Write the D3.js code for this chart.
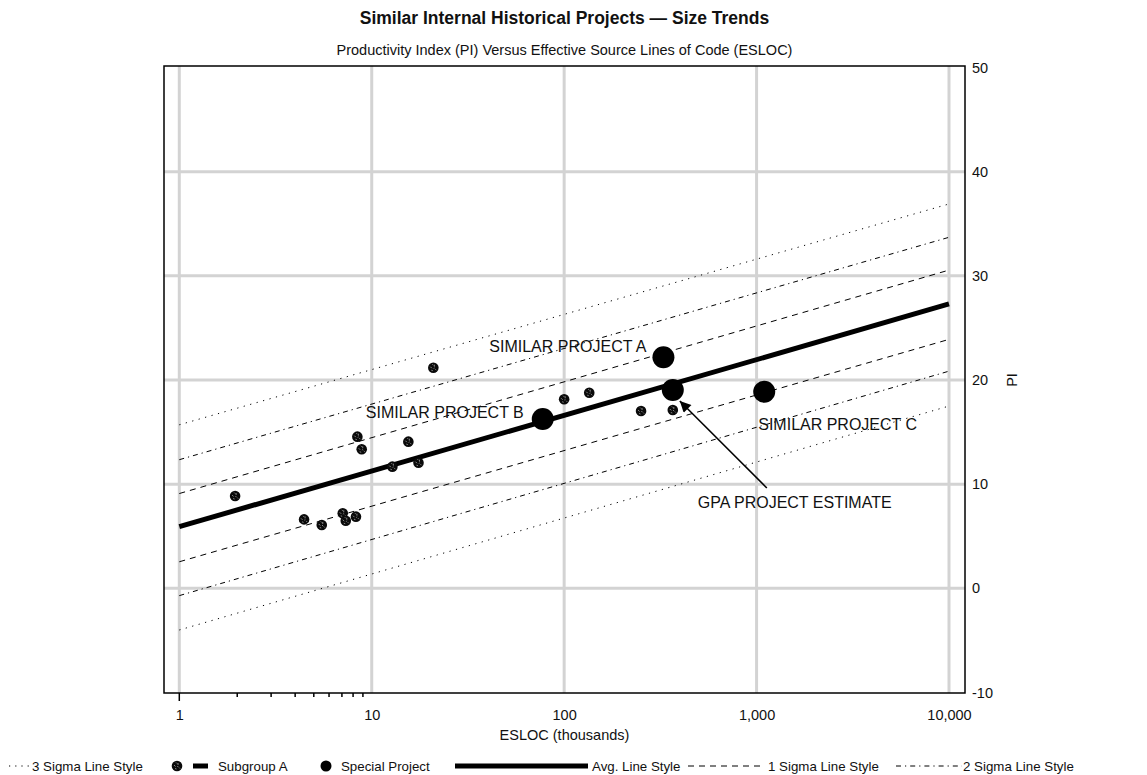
<!DOCTYPE html>
<html>
<head>
<meta charset="utf-8">
<script src="https://cdn.jsdelivr.net/npm/d3@7"></script>
<style>
  html, body { margin: 0; padding: 0; background: #fff; }
  svg { display: block; font-family: "Liberation Sans", Arial, Helvetica, sans-serif; }
</style>
</head>
<body>
<svg id="chart" width="1147" height="775"></svg>
<script>
// ---------------- DATA ----------------
const xTickValues = [1, 10, 100, 1000, 10000];
const xMinorTicks = [2, 3, 4, 5, 6, 7, 8, 9];
const yTickValues = [-10, 0, 10, 20, 30, 40, 50];
const yGridValues = [0, 10, 20, 30, 40];

// Subgroup A historical projects (ESLOC thousands, PI)
const subgroupX = [1.95, 4.45, 5.5, 7.07, 7.33, 8.28, 8.42, 8.87, 12.8, 15.5, 17.5, 20.9, 100, 135, 251, 367];
const subgroupY = [8.86, 6.62, 6.08, 7.2, 6.49, 6.88, 14.56, 13.35, 11.68, 14.08, 12.06, 21.18, 18.15, 18.78, 17.02, 17.12];

// Special projects
const specialNames = ["SIMILAR PROJECT A", "SIMILAR PROJECT B", "SIMILAR PROJECT C", "GPA PROJECT ESTIMATE"];
const specialX = [328, 77.4, 1096, 367];
const specialY = [22.18, 16.26, 18.88, 19.04];

// Trend lines: PI at ESLOC = 1 and at ESLOC = 10,000
const lineEndsX = [1, 10000];
const avgLine = [5.92, 27.3];
const plus1Sigma = [9.1, 30.55];
const plus2Sigma = [12.35, 33.7];
const plus3Sigma = [15.7, 36.9];
const minus1Sigma = [2.55, 23.9];
const minus2Sigma = [-0.7, 20.85];
const minus3Sigma = [-4.0, 17.5];

// ---------------- LAYOUT ----------------
const svg = d3.select("#chart");
const frame = { left: 164, right: 965, top: 66, bottom: 693 };

const x = d3.scaleLog().domain([1, 10000]).range([179.3, 949]);
const y = d3.scaleLinear().domain([-10, 50]).range([692.5, 67.5]);

const GRID = "#d3d3d3";

// Title & subtitle
const cx = (frame.left + frame.right) / 2;
svg.append("text").attr("x", cx).attr("y", 24).attr("text-anchor", "middle")
  .attr("font-size", 17.5).attr("font-weight", "bold").attr("fill", "#111")
  .text("Similar Internal Historical Projects \u2014 Size Trends");
svg.append("text").attr("x", cx).attr("y", 55).attr("text-anchor", "middle")
  .attr("font-size", 14.5).attr("fill", "#111")
  .text("Productivity Index (PI) Versus Effective Source Lines of Code (ESLOC)");

// Clip for plot area
const defs = svg.append("defs");
defs.append("clipPath").attr("id", "plotclip")
  .append("rect").attr("x", frame.left).attr("y", frame.top)
  .attr("width", frame.right - frame.left).attr("height", frame.bottom - frame.top);

// Gridlines
const grid = svg.append("g");
grid.selectAll("line.v").data(xTickValues).join("line")
  .attr("x1", d => x(d)).attr("x2", d => x(d))
  .attr("y1", frame.top).attr("y2", frame.bottom)
  .attr("stroke", GRID).attr("stroke-width", 3);
grid.selectAll("line.h").data(yGridValues).join("line")
  .attr("x1", frame.left).attr("x2", frame.right)
  .attr("y1", d => y(d)).attr("y2", d => y(d))
  .attr("stroke", GRID).attr("stroke-width", 3);

// Trend lines
const plot = svg.append("g").attr("clip-path", "url(#plotclip)");
const lineGen = d3.line().x(d => x(d[0])).y(d => y(d[1]));
const trendDefs = [
  { v: plus3Sigma, dash: "1.2,5.5", w: 1 },
  { v: minus3Sigma, dash: "1.2,5.5", w: 1 },
  { v: plus2Sigma, dash: "5,4,1.2,4", w: 1 },
  { v: minus2Sigma, dash: "5,4,1.2,4", w: 1 },
  { v: plus1Sigma, dash: "6,5", w: 1 },
  { v: minus1Sigma, dash: "6,5", w: 1 },
  { v: avgLine, dash: null, w: 5 }
];
trendDefs.forEach(t => {
  plot.append("path")
    .attr("d", lineGen(lineEndsX.map((xv, i) => [xv, t.v[i]])))
    .attr("fill", "none").attr("stroke", "#000")
    .attr("stroke-width", t.w)
    .attr("stroke-dasharray", t.dash);
});

// Subgroup marker symbol
const sym = defs.append("g").attr("id", "subA");
sym.append("circle").attr("r", 5.3).attr("fill", "#0a0a0a");
sym.append("path").attr("d", "M-3,-1 L-1.5,0.5 M1,-3 L1,-1 M2,1.5 L3,2.5 M-2,2.5 L-0.5,3 M-1,-3.5 L0,-2.5 M0.5,1 L1,0")
  .attr("stroke", "#bbb").attr("stroke-width", 0.7).attr("fill", "none");

plot.selectAll("use.sub").data(subgroupX.map((d, i) => [d, subgroupY[i]])).join("use")
  .attr("href", "#subA")
  .attr("x", d => x(d[0])).attr("y", d => y(d[1]));

// Special projects
const specials = specialX.map((d, i) => ({ name: specialNames[i], xv: d, yv: specialY[i] }));
plot.selectAll("circle.sp").data(specials).join("circle")
  .attr("cx", d => x(d.xv)).attr("cy", d => y(d.yv)).attr("r", 11).attr("fill", "#000");

// Labels for special projects (offsets are layout only)
const labelOffsets = [
  { dx: -17, dy: -11, anchor: "end" },
  { dx: -19, dy: -7, anchor: "end" },
  { dx: -6, dy: 33, anchor: "start" },
  { dx: 25, dy: 112, anchor: "start" }
];
specials.forEach((s, i) => {
  const o = labelOffsets[i];
  svg.append("text")
    .attr("x", x(s.xv) + o.dx).attr("y", y(s.yv) + o.dy)
    .attr("dy", "0.35em").attr("text-anchor", o.anchor)
    .attr("font-size", 16).attr("fill", "#111")
    .text(s.name);
});

// Arrow for GPA estimate
defs.append("marker").attr("id", "arrowHead")
  .attr("viewBox", "0 0 10 10").attr("refX", 10).attr("refY", 5)
  .attr("markerWidth", 14).attr("markerHeight", 11).attr("markerUnits", "userSpaceOnUse")
  .attr("orient", "auto")
  .append("path").attr("d", "M0,0 L10,5 L0,10 Z").attr("fill", "#000");
const gpa = specials[3];
svg.append("line")
  .attr("x1", x(gpa.xv) + 94).attr("y1", y(gpa.yv) + 98)
  .attr("x2", x(gpa.xv) + 7).attr("y2", y(gpa.yv) + 11)
  .attr("stroke", "#000").attr("stroke-width", 1.6)
  .attr("marker-end", "url(#arrowHead)");

// Frame
svg.append("rect")
  .attr("x", frame.left).attr("y", frame.top)
  .attr("width", frame.right - frame.left).attr("height", frame.bottom - frame.top)
  .attr("fill", "none").attr("stroke", "#000").attr("stroke-width", 1.5);

// Bottom axis
const xAxis = d3.axisBottom(x).tickValues(xTickValues).tickFormat(d3.format(","))
  .tickSize(0).tickPadding(17);
const gx = svg.append("g").attr("transform", `translate(0,${frame.bottom})`).call(xAxis);
gx.select(".domain").remove();
gx.selectAll("text").attr("font-size", 14.5).attr("fill", "#111").attr("font-family", null);
svg.append("line").attr("x1", x(1)).attr("x2", x(1))
  .attr("y1", frame.bottom).attr("y2", frame.bottom + 8)
  .attr("stroke", "#000").attr("stroke-width", 1.5);
svg.selectAll("line.minor").data(xMinorTicks).join("line")
  .attr("x1", d => x(d)).attr("x2", d => x(d))
  .attr("y1", frame.bottom).attr("y2", frame.bottom + 4)
  .attr("stroke", "#000").attr("stroke-width", 1.5);

// Right axis
const yAxis = d3.axisRight(y).tickValues(yTickValues).tickFormat(d => String(d))
  .tickSize(0).tickPadding(7);
const gy = svg.append("g").attr("transform", `translate(${frame.right},0)`).call(yAxis);
gy.select(".domain").remove();
gy.selectAll("text").attr("font-size", 14.5).attr("fill", "#111").attr("font-family", null);

// Axis titles
svg.append("text").attr("x", cx).attr("y", 740).attr("text-anchor", "middle")
  .attr("font-size", 14.5).attr("fill", "#111").text("ESLOC (thousands)");
svg.append("text").attr("transform", `translate(1012,${y(20)}) rotate(-90)`)
  .attr("text-anchor", "middle").attr("dy", "0.35em")
  .attr("font-size", 14.5).attr("fill", "#111").text("PI");

// Legend
const ly = 766;
const leg = svg.append("g").attr("font-size", 13.3).attr("fill", "#111");
function legLine(x1, x2, dash, w) {
  leg.append("line").attr("x1", x1).attr("x2", x2).attr("y1", ly).attr("y2", ly)
    .attr("stroke", "#000").attr("stroke-width", w).attr("stroke-dasharray", dash);
}
function legText(xp, t) {
  leg.append("text").attr("x", xp).attr("y", ly).attr("dy", "0.35em").text(t);
}
legLine(9, 31, "1.2,5", 1.2);
legText(32, "3 Sigma Line Style");
leg.append("use").attr("href", "#subA").attr("x", 177).attr("y", ly);
legLine(193, 208, null, 5);
legText(218, "Subgroup A");
leg.append("circle").attr("cx", 326).attr("cy", ly).attr("r", 5.5).attr("fill", "#000");
legText(341, "Special Project");
legLine(455, 588, null, 5);
legText(592, "Avg. Line Style");
legLine(688, 765, "6,5", 1);
legText(768, "1 Sigma Line Style");
legLine(896, 962, "5,4,1.2,4", 1);
legText(963, "2 Sigma Line Style");
</script>
</body>
</html>
